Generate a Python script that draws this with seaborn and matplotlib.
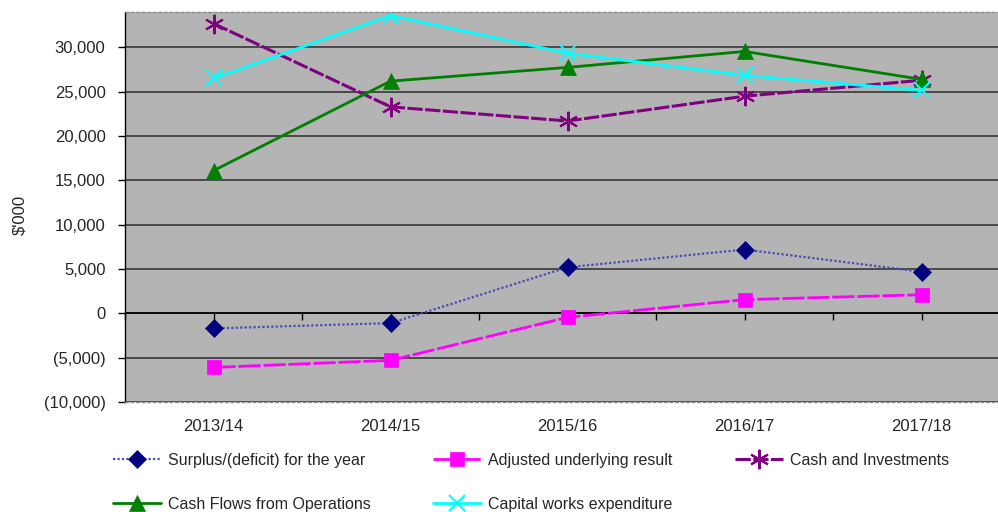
import numpy as np
import pandas as pd
import seaborn as sns
import matplotlib.pyplot as plt
from matplotlib.ticker import FuncFormatter

# Data ($'000)
years = ['2013/14', '2014/15', '2015/16', '2016/17', '2017/18']
surplus = [-1700, -1100, 5200, 7200, 4700]
adjusted = [-6100, -5300, -450, 1550, 2100]
cash_inv = [32700, 23300, 21700, 24500, 26300]
cash_ops = [16100, 26200, 27750, 29550, 26400]
capital = [26500, 33600, 29350, 26850, 25150]

# name, values, line colour, marker colour, marker, linestyle, markersize, linewidth
series = [
    ('Surplus/(deficit) for the year', surplus, '#4a4ab4', '#000080', 'D', (0, (1, 1)), 9, 1.6),
    ('Adjusted underlying result', adjusted, '#ff00ff', '#ff00ff', 's', (0, (8, 1)), 10, 2.0),
    ('Cash and Investments', cash_inv, '#800080', '#800080', (6, 2, 0), (0, (5, 0.8)), 14, 2.2),
    ('Cash Flows from Operations', cash_ops, '#008000', '#008000', '^', '-', 11, 2.0),
    ('Capital works expenditure', capital, '#00ffff', '#00ffff', 'x', '-', 11, 2.0),
]

sns.set_style('white')
plt.rcParams['font.family'] = ['Liberation Sans', 'DejaVu Sans']

fig = plt.figure(figsize=(9.98, 5.12), dpi=100)
ax = fig.add_axes([125 / 998, 110 / 512, 885 / 998, 390 / 512])
ax.set_facecolor('#b4b4b4')

for name, vals, col, mcol, mk, ls, ms, lw in series:
    df = pd.DataFrame({'Year': years, 'Value': vals})
    sns.lineplot(data=df, x='Year', y='Value', ax=ax, color=col, marker=mk,
                 markersize=ms, linestyle=ls, linewidth=lw, label=name,
                 markerfacecolor=mcol, markeredgecolor=mcol,
                 markeredgewidth=1.5 if mk in ('x', (6, 2, 0)) else 0.5)

ax.set_xlim(-0.5, 4.5)
ax.set_ylim(-10000, 34000)
ax.set_yticks(np.arange(-10000, 30001, 5000))
ax.yaxis.set_major_formatter(FuncFormatter(
    lambda v, p: '0' if v == 0 else (f'({abs(v):,.0f})' if v < 0 else f'{v:,.0f}')))
ax.grid(axis='y', color='#383838', linewidth=1.2)
ax.axhline(0, color='black', linewidth=1.2, zorder=1)
ax.set_axisbelow(True)

ax.tick_params(axis='y', direction='out', length=5, width=1, color='black',
               pad=9, labelsize=12, left=True)
ax.tick_params(axis='x', length=0, pad=12, labelsize=12)
ax.set_xlabel('')
ax.set_ylabel("$'000", fontsize=12)
ax.yaxis.set_label_coords(-98 / 885, 0.48)

for s in ['top', 'bottom']:
    ax.spines[s].set_color('#8c8c8c')
    ax.spines[s].set_linestyle((0, (2, 2)))
    ax.spines[s].set_linewidth(1)
ax.spines['left'].set_color('black')
ax.spines['left'].set_linewidth(1)
ax.spines['right'].set_visible(False)

# small category ticks on the zero line
secax = ax.secondary_xaxis(10000 / 44000)
secax.set_xticks(np.arange(-0.5, 4.6, 0.5))
secax.set_xticklabels([])
secax.tick_params(direction='out', length=5, width=1, color='black')
secax.spines['bottom'].set_visible(False)

handles, labels = ax.get_legend_handles_labels()
ax.get_legend().remove()
# legend fills row-wise in the reference; matplotlib fills column-wise
order = [0, 3, 1, 4, 2]
fig.legend([handles[i] for i in order], [labels[i] for i in order], ncol=3,
           loc='upper left', bbox_to_anchor=(113 / 998, 1 - 453 / 512),
           frameon=False, fontsize=11.5, handlelength=3.0, handletextpad=0.45,
           labelspacing=1.8, columnspacing=3.9, borderpad=0, borderaxespad=0)

fig.savefig('out.png', dpi=100)
